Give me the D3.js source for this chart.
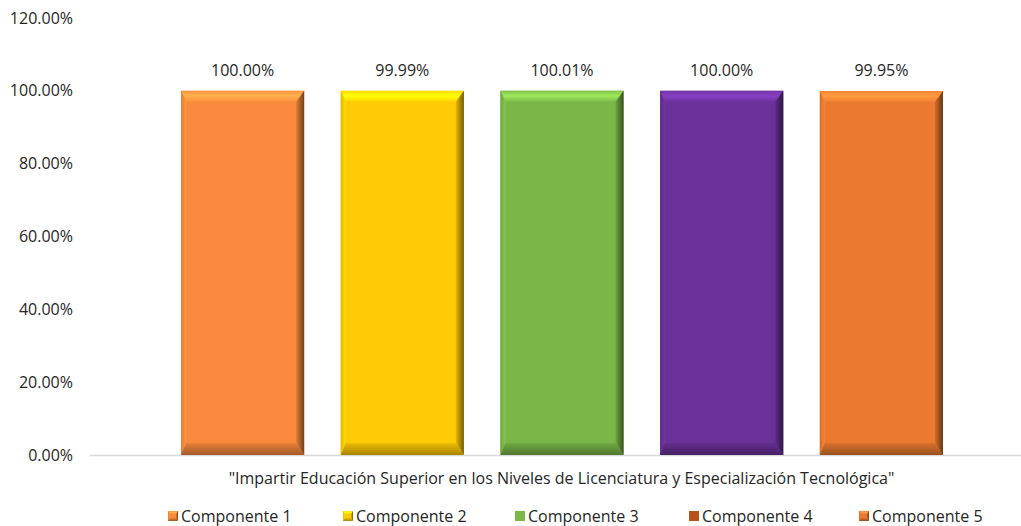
<!DOCTYPE html>
<html><head><meta charset="utf-8">
<script src="https://cdn.jsdelivr.net/npm/d3@7"></script>
<style>body{margin:0;background:#fff}svg{display:block}text{font-family:"Open Sans","Noto Sans",sans-serif;fill:#262626}</style>
</head><body><svg id="c" width="1021" height="526"></svg>
<script>
const categories = ['"Impartir Educación Superior en los Niveles de Licenciatura y Especialización Tecnológica"'];
const series = ["Componente 1","Componente 2","Componente 3","Componente 4","Componente 5"];
const values = [100.00, 99.99, 100.01, 100.00, 99.95];
const colors = ["#FA8A3C","#FFCB05","#7AB648","#6A3198","#E97A30"];
const yTicks = [0,20,40,60,80,100,120];

const svg = d3.select("#c");
const defs = svg.append("defs");
const y = d3.scaleLinear().domain([0,120]).range([455,18]);
const x0 = d3.scaleBand().domain(categories).range([90,1033]);
const x1 = d3.scaleBand().domain(series).range([162.75,961.25]).paddingInner(0.229).paddingOuter(0.1145);

const FS = "16px";
// y labels
svg.append("g").selectAll("text").data(yTicks).join("text")
  .attr("x",73).attr("y",d=>y(d)).attr("dy","0.35em").attr("text-anchor","end")
  .style("font-size",FS).text(d=>d.toFixed(2)+"%");

// baseline
svg.append("line").attr("x1",90).attr("x2",1021).attr("y1",y(0)+0.5).attr("y2",y(0)+0.5)
  .attr("stroke","#d9d9d9").attr("stroke-width",1.5);

let gid = 0;
function grad(x1_,y1_,x2_,y2_,stops){
  const id = "g"+(gid++);
  const lg = defs.append("linearGradient").attr("id",id)
    .attr("x1",x1_).attr("y1",y1_).attr("x2",x2_).attr("y2",y2_);
  stops.forEach(s=>lg.append("stop").attr("offset",s[0]).attr("stop-color",s[1]));
  return "url(#"+id+")";
}
function bevel(g, x, yt, w, h, col, t){
  const c = d3.color(col);
  const tl=t.l, tt=t.t, tr=t.r, tb=t.b;
  g.append("rect").attr("x",x).attr("y",yt).attr("width",w).attr("height",h).attr("fill",col);
  const pts = (a)=>a.map(p=>p.join(",")).join(" ");
  g.append("polygon").attr("points",pts([[x,yt],[x+w,yt],[x+w-tr,yt+tt],[x+tl,yt+tt]]))
    .attr("fill",grad(0,0,0,1,[[0,c.brighter(0.2)],[0.45,c.brighter(0.7)],[1,c.brighter(0.1)]]));
  g.append("polygon").attr("points",pts([[x,yt],[x+tl,yt+tt],[x+tl,yt+h-tb],[x,yt+h]]))
    .attr("fill",grad(0,0,1,0,[[0,c.darker(0.3)],[1,c.brighter(0.25)]]));
  g.append("polygon").attr("points",pts([[x+w,yt],[x+w,yt+h],[x+w-tr,yt+h-tb],[x+w-tr,yt+tt]]))
    .attr("fill",grad(0,0,1,0,[[0,c.darker(0.3)],[1,c.darker(2.2)]]));
  g.append("polygon").attr("points",pts([[x,yt+h],[x+tl,yt+h-tb],[x+w-tr,yt+h-tb],[x+w,yt+h]]))
    .attr("fill",grad(0,0,0,1,[[0,c.darker(0.2)],[1,c.darker(1.2)]]));
}

const bars = svg.append("g");
series.forEach((s,i)=>{
  const xb = x1(s), w = x1.bandwidth();
  const yt = y(values[i]), h = y(0)-yt;
  bevel(bars.append("g"), xb, yt, w, h, colors[i], {l:5,t:11,r:8,b:12});
  bars.append("text").attr("x",xb+w/2).attr("y",y(values[i])-15).attr("text-anchor","middle")
    .style("font-size",FS).text(values[i].toFixed(2)+"%");
});

// category label
svg.append("text").attr("x",x0(categories[0])+x0.bandwidth()/2).attr("y",484).attr("text-anchor","middle")
  .style("font-size",FS).text(categories[0]);

// legend
const legX = [168,343,515,689,859];
const lg = svg.append("g");
series.forEach((s,i)=>{
  const g = lg.append("g");
  if(i===2 || i===3){
    g.append("rect").attr("x",legX[i]).attr("y",511).attr("width",10).attr("height",10).attr("fill",i===3?"#B5531A":colors[i]);
  } else {
    bevel(g, legX[i], 511, 10, 10, colors[i], {l:2,t:3,r:2,b:3});
  }
  g.append("text").attr("x",legX[i]+13).attr("y",516).attr("dy","0.35em").style("font-size",FS).text(s);
});
</script></body></html>
